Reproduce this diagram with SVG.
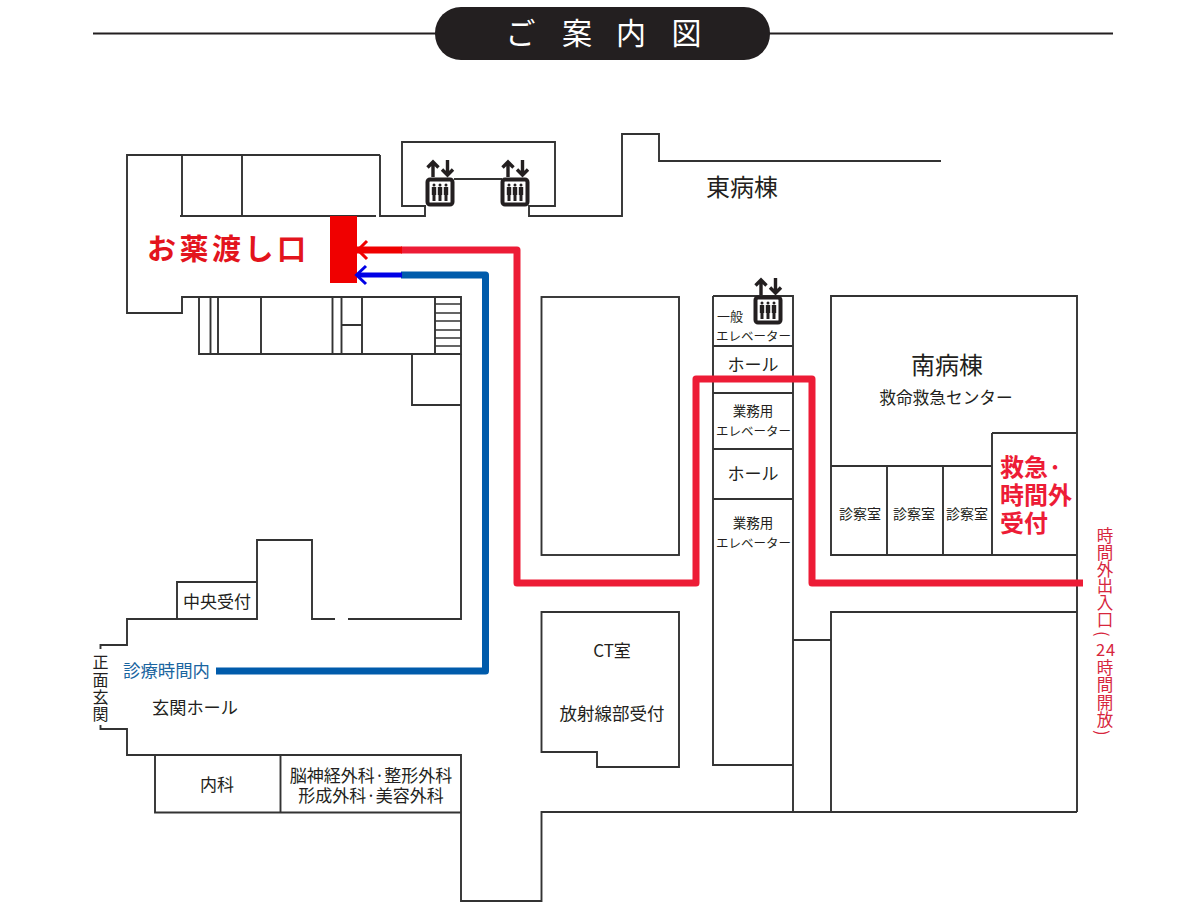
<svg xmlns="http://www.w3.org/2000/svg" width="1200" height="910" viewBox="0 0 1200 910">
<style>
.w{fill:none;stroke:#333;stroke-width:1.900}
.s{fill:none;stroke:#333;stroke-width:1.400}
.t{font-family:"Noto Sans CJK JP","Noto Sans",sans-serif;fill:#231f20}
.m{text-anchor:middle}
.r{fill:none;stroke:#ed1c36;stroke-width:7;stroke-linejoin:round}
.b{fill:none;stroke:#005bab;stroke-width:7;stroke-linejoin:round}
</style>
<defs>
<g id="elev">
<rect x="1.500" y="1.500" width="25" height="25" rx="2.500" fill="#fff" stroke="#231f20" stroke-width="4"/>
<g fill="#231f20">
<circle cx="8" cy="7" r="1.500"/><path d="M5.800 9h4.400v8h-.7v6h-3v-6h-.7z"/>
<circle cx="14" cy="7" r="1.500"/><path d="M11.800 9h4.400v8h-.7v6h-3v-6h-.7z"/>
<circle cx="20" cy="7" r="1.500"/><path d="M17.800 9h4.400v8h-.7v6h-3v-6h-.7z"/>
</g>
<g fill="none" stroke="#231f20" stroke-width="3.400">
<path d="M7 -1V-15M1.500 -10.500L7 -16L12.500 -10.500"/>
<path d="M21.500 -18V-4M16 -8.500L21.500 -3L27 -8.500"/>
</g>
</g>
</defs>
<rect width="1200" height="910" fill="#fff"/>

<g id="title">
<path d="M93 33.500H1113" fill="none" stroke="#231f20" stroke-width="2"/>
<rect x="435" y="7" width="335" height="53" rx="26" fill="#231f20"/>
<text class="t" x="520.500 577 631 686.500" y="44" font-size="30" text-anchor="middle" style="fill:#fff">ご案内図</text>
</g>

<g id="north-wing">
<path class="w" d="M380 155H127V313H182V297H461V354H199V297"/>
<path class="w" d="M182 155V216M242 155V216M180 216H376M380 155V216H425V206"/>
<path class="w" d="M210.500 297V354M218 297V354M261 297V354M332.500 297V354M341.500 297V354M362 297V354M435 297V354M342 325H362"/>
<path class="s" d="M435 304H461M435 313H461M435 321H461M435 330H461M435 338H461M435 346H461"/>
<path class="w" d="M412 354V405H461"/>
</g>

<g id="east-wing">
<path class="w" d="M426 206H402V142H555V206H529V216H622V134H659V161H941"/>
<path class="w" d="M454 179H502"/>
<use href="#elev" x="426" y="178"/>
<use href="#elev" x="501" y="178"/>
<text class="t m" x="742" y="196" font-size="24">東病棟</text>
</g>

<g id="pickup">
<rect x="330" y="216" width="27" height="67" fill="#f00000"/>
<text class="t" x="147" y="260" font-size="29" letter-spacing="3.500" font-weight="700" style="fill:#e3141d">お薬渡し口</text>
</g>

<g id="room-mid"><rect class="w" x="541.500" y="297" width="137.500" height="258"/></g>

<g id="center-core">
<path class="w" d="M713 296H793V812M713 296V765H793M713 346H793M713 393H793M713 449H793M713 499H793M793 640H831"/>
<use href="#elev" x="754" y="296"/>
<text class="t m" x="730" y="321" font-size="13">一般</text>
<text class="t m" x="753.500" y="341" font-size="12.500">エレベーター</text>
<text class="t m" x="753" y="371" font-size="17">ホール</text>
<text class="t m" x="753" y="416" font-size="13.500">業務用</text>
<text class="t m" x="753.500" y="436" font-size="12.500">エレベーター</text>
<text class="t m" x="753" y="479.500" font-size="17">ホール</text>
<text class="t m" x="753" y="528" font-size="13.500">業務用</text>
<text class="t m" x="753.500" y="548" font-size="12.500">エレベーター</text>
</g>

<g id="south-wing">
<path class="w" d="M1077 812V296H831V555H1077M831 466H992M992 433H1077M992 433V555M887 466V555M943 466V555"/>
<text class="t m" x="947" y="374" font-size="24">南病棟</text>
<text class="t m" x="946" y="404" font-size="16.700">救命救急センター</text>
<text class="t m" x="860" y="518.500" font-size="14">診察室</text>
<text class="t m" x="914" y="518.500" font-size="14">診察室</text>
<text class="t m" x="967" y="518.500" font-size="14">診察室</text>
<g class="t" font-size="24" font-weight="700" style="fill:#ed1c36">
<text x="1000" y="476">救急·</text>
<text x="1000" y="504">時間外</text>
<text x="1000" y="532">受付</text>
</g>
</g>

<g id="south-lower"><path class="w" d="M831 812V612H1077"/></g>

<g id="ct-room">
<path class="w" d="M541.500 612H679V767H597V752H541.500Z"/>
<text class="t m" x="612" y="657" font-size="17">CT室</text>
<text class="t m" x="612" y="720" font-size="17.500">放射線部受付</text>
</g>

<g id="lobby">
<path class="w" d="M461 354V619H348M335 619H312V540H257V619H127V645H100.500V649"/>
<path class="w" d="M177 619V582H257"/>
<path class="w" d="M100.500 725V729H127V755H461V901H541.500V812H1077"/>
<path class="w" d="M155 755V812.500H461M280.500 755V812.500"/>
<text class="t m" x="217" y="607.500" font-size="17">中央受付</text>
<text class="t" x="152" y="713.500" font-size="17.200">玄関ホール</text>
<text class="t m" x="217" y="791" font-size="17">内科</text>
<text class="t m" x="371" y="782" font-size="17">脳神経外科·整形外科</text>
<text class="t m" x="371" y="802" font-size="17">形成外科·美容外科</text>
<text class="t" x="100.500 100.500 100.500 100.500" y="668 686 703 720" font-size="16" text-anchor="middle">正面玄関</text>
</g>

<g id="connectors">
<path class="r" d="M401 250H517V583H696V379H812V583H1083"/>
<path d="M357 250H402" fill="none" stroke="#f00000" stroke-width="7"/>
<path d="M367 241L358 250L367 259" fill="none" stroke="#f00000" stroke-width="3"/>
<path class="b" d="M216 671H485.500V275H401"/>
<path d="M358 275H402" fill="none" stroke="#0000e6" stroke-width="5"/>
<path d="M366 266L356.500 275L366 284" fill="none" stroke="#0000e6" stroke-width="3"/>
</g>

<g id="labels">
<text class="t" x="123" y="676.500" font-size="17.400" style="fill:#1a65a0">診療時間内</text>
<text class="t" x="1105 1105 1105 1105 1105 1105 1099 1100.500 1110.500 1105 1105 1105 1105 1099" y="542 559 576 592 609 626 631 656 656 674 691 709 726 730" rotate="0 0 0 0 0 0 90 0 0 0 0 0 0 90" font-size="16.500" text-anchor="middle" style="fill:#d7263d">時間外出入口(24時間開放)</text>
</g>
</svg>
